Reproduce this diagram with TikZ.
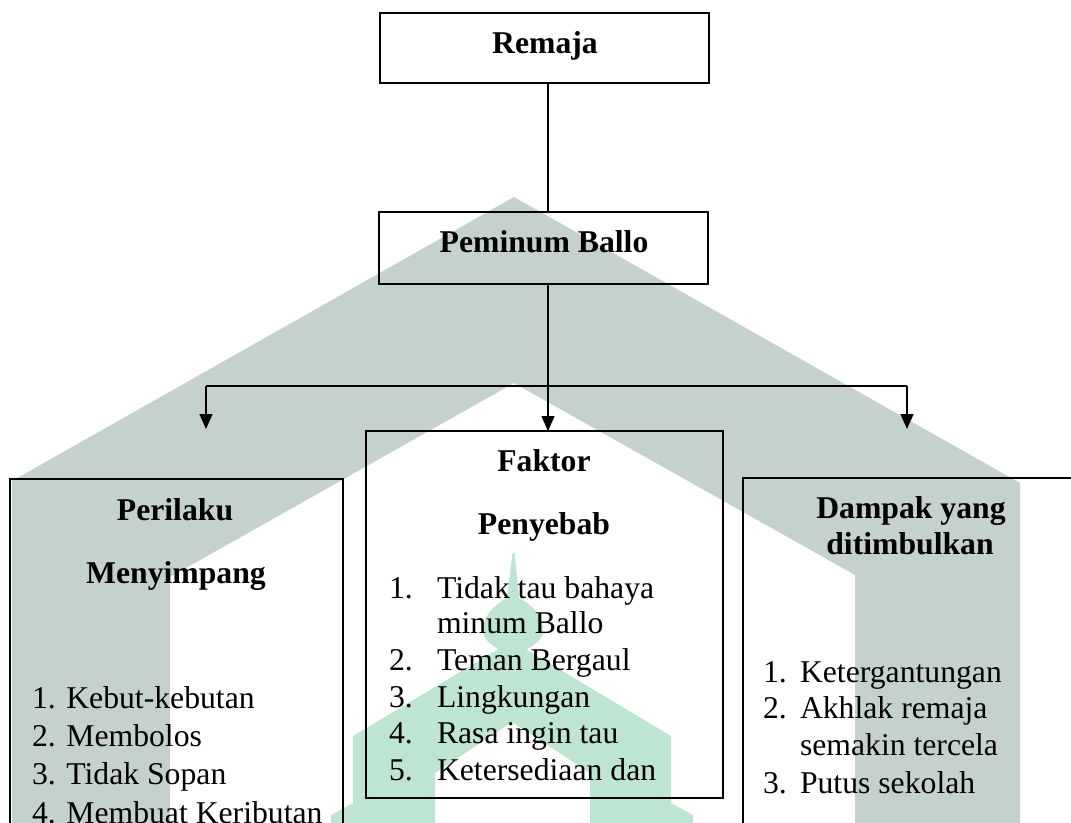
\documentclass[tikz,border=0pt]{standalone}
\usepackage{fontspec}
\setmainfont{Liberation Serif}
\usetikzlibrary{arrows.meta}
\definecolor{wmgray}{RGB}{197,209,205}
\definecolor{wmgreen}{RGB}{190,229,210}
\begin{document}
\begin{tikzpicture}[x=1pt,y=-1pt,
  box/.style={draw, line width=1.8pt, inner sep=0pt, outer sep=0pt},
  conn/.style={line width=1.5pt},
  arr/.style={conn,-{Triangle[width=13pt,length=15pt]}},
  txt/.style={inner sep=0pt, outer sep=0pt, font=\fontsize{31.7}{36}\selectfont},
  hd/.style={inner sep=0pt, outer sep=0pt, font=\fontsize{31.7}{36}\selectfont\bfseries}]
\useasboundingbox (0,0) rectangle (1071,822);
\clip (0,0) rectangle (1071,822);
% watermark
\fill[wmgray] (12,830) -- (12,481) -- (514,197) -- (1020,483) -- (1020,830) -- (855,830)
  -- (855,575) -- (514,383) -- (170,577) -- (170,830) -- cycle;
\fill[wmgreen] (353,830) -- (353,736) -- (512,641) -- (671,736) -- (671,830) -- (590,830)
  -- (590,773) -- (512,722) -- (435,773) -- (435,830) -- cycle;
\fill[wmgreen] (512.5,553) -- (514.5,553) -- (519,598)
  .. controls (534,606) and (544,618) .. (543,632)
  .. controls (542,642) and (529,648) .. (523,652) -- (523,662) -- (503,662) -- (503,652)
  .. controls (497,648) and (484,642) .. (483,632)
  .. controls (482,618) and (492,606) .. (507,598) -- cycle;
\fill[wmgreen] (353,803) -- (331,815) -- (331,830) -- (353,830) -- cycle;
\fill[wmgreen] (671,803) -- (693,815) -- (693,830) -- (671,830) -- cycle;

% boxes
\node[box, minimum width=329pt, minimum height=70pt] (remaja) at (544.5,48) {};
\node[box, minimum width=329pt, minimum height=72pt] (peminum) at (543.5,248) {};
\node[box, minimum width=357pt, minimum height=367pt] (faktor) at (544.5,614.5) {};
\node[box, minimum width=333pt, minimum height=421pt] (perilaku) at (176.5,689.5) {};
\node[box, minimum width=357pt, minimum height=422pt] (dampak) at (921.5,689) {};

% connectors
\coordinate (stem) at (548,386);
\coordinate (barL) at (206,386);
\coordinate (barR) at (907,386);
\coordinate (tipL) at (206,429);
\coordinate (tipR) at (907,429);
\draw[conn] (stem |- remaja.south) -- (stem |- peminum.north);
\draw[conn] (stem |- peminum.south) -- (stem);
\draw[conn] (barL) -- (barR);
\draw[arr] (barL) -- (tipL);
\draw[arr] (barR) -- (tipR);
\draw[arr] (stem) -- (stem |- faktor.north);

% texts
\node[hd, anchor=base] (tRemaja) at (545,53) {Remaja};
\node[hd, anchor=base] (tPeminum) at (544,252) {Peminum Ballo};

\node[hd, anchor=base] (tFak1) at (544,471) {Faktor};
\node[hd, anchor=base] (tFak2) at (544,534) {Penyebab};
\node[txt, anchor=base west] (f1n) at (389,598) {1.};
\node[txt, anchor=base west] (f1t) at (437,598) {Tidak tau bahaya};
\node[txt, anchor=base west] (f1u) at (437,633) {minum Ballo};
\node[txt, anchor=base west] (f2n) at (389,670) {2.};
\node[txt, anchor=base west] (f2t) at (437,670) {Teman Bergaul};
\node[txt, anchor=base west] (f3n) at (389,707) {3.};
\node[txt, anchor=base west] (f3t) at (437,707) {Lingkungan};
\node[txt, anchor=base west] (f4n) at (389,743) {4.};
\node[txt, anchor=base west] (f4t) at (437,743) {Rasa ingin tau};
\node[txt, anchor=base west] (f5n) at (389,780) {5.};
\node[txt, anchor=base west] (f5t) at (437,780) {Ketersediaan dan};

\node[hd, anchor=base] (tPer1) at (175,520) {Perilaku};
\node[hd, anchor=base] (tPer2) at (176,583) {Menyimpang};
\node[txt, anchor=base west] (p1) at (32,708) {1. Kebut-kebutan};
\node[txt, anchor=base west] (p2) at (32,746) {2. Membolos};
\node[txt, anchor=base west] (p3) at (32,784) {3. Tidak Sopan};
\node[txt, anchor=base west] (p4) at (32,823) {4. Membuat Keributan};

\node[hd, anchor=base] (tDam1) at (911,518) {Dampak yang};
\node[hd, anchor=base] (tDam2) at (910,554) {ditimbulkan};
\node[txt, anchor=base west] (d1n) at (763,682) {1.};
\node[txt, anchor=base west] (d1t) at (800,682) {Ketergantungan};
\node[txt, anchor=base west] (d2n) at (763,718) {2.};
\node[txt, anchor=base west] (d2t) at (800,718) {Akhlak remaja};
\node[txt, anchor=base west] (d2u) at (800,755) {semakin tercela};
\node[txt, anchor=base west] (d3n) at (763,793) {3.};
\node[txt, anchor=base west] (d3t) at (800,793) {Putus sekolah};
\end{tikzpicture}
\end{document}
